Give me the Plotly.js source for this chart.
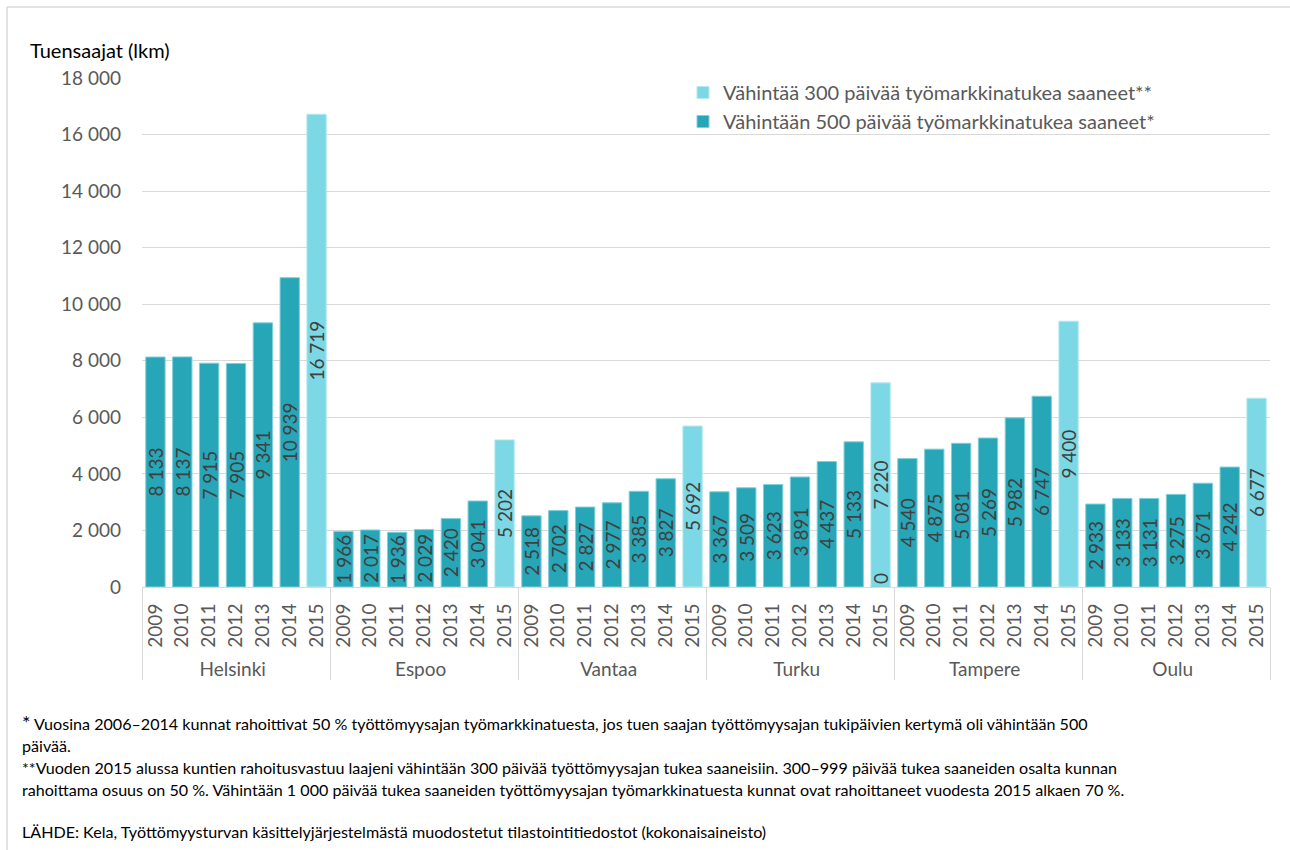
<!DOCTYPE html>
<html>
<head>
<meta charset="utf-8">
<script src="https://cdn.plot.ly/plotly-3.0.1.min.js"></script>
<style>html,body{margin:0;padding:0;background:#fff;}#chart{width:1290px;height:850px;}</style>
</head>
<body>
<div id="chart"></div>
<script>
const cities = ['Helsinki', 'Espoo', 'Vantaa', 'Turku', 'Tampere', 'Oulu'];
const years = ['2009', '2010', '2011', '2012', '2013', '2014', '2015'];
// Vähintään 500 päivää (2009–2014) per city
const helsinki500 = [8133, 8137, 7915, 7905, 9341, 10939];
const espoo500 = [1966, 2017, 1936, 2029, 2420, 3041];
const vantaa500 = [2518, 2702, 2827, 2977, 3385, 3827];
const turku500 = [3367, 3509, 3623, 3891, 4437, 5133];
const tampere500 = [4540, 4875, 5081, 5269, 5982, 6747];
const oulu500 = [2933, 3133, 3131, 3275, 3671, 4242];
// 2015 value of the 500-day series (shown only for Turku)
const year2015At500 = [null, null, null, 0, null, null];
// Vähintään 300 päivää (2015) per city
const vals300_2015 = [16719, 5202, 5692, 7220, 9400, 6677];
const seriesNames = ['Vähintää 300 päivää työmarkkinatukea saaneet**', 'Vähintään 500 päivää työmarkkinatukea saaneet*'];

const vals500ByCity = [helsinki500, espoo500, vantaa500, turku500, tampere500, oulu500];

const outer = [], inner = [], y300 = [], y500 = [], pos500 = [];
cities.forEach((c, ci) => {
  years.forEach((yr, yi) => {
    outer.push(c); inner.push(yr);
    if (yr === '2015') {
      y300.push(vals300_2015[ci]);
      y500.push(year2015At500[ci]);
      pos500.push('outside');
    } else {
      y300.push(null);
      y500.push(vals500ByCity[ci][yi]);
      pos500.push('inside');
    }
  });
});

const FONT = 'Lato, "Open Sans", sans-serif';
const grey = '#595959';

const traces = [
  {
    type: 'bar', name: seriesNames[0], x: [outer, inner], y: y300,
    marker: {color: '#7CD8E4', line: {color: '#B5E9F0', width: 1}},
    texttemplate: '%{y:,}', textposition: 'inside', insidetextanchor: 'middle', textangle: -90,
    textfont: {family: FONT, size: 19, color: '#404040'}, width: 0.72, hoverinfo: 'y'
  },
  {
    type: 'bar', name: seriesNames[1], x: [outer, inner], y: y500,
    marker: {color: '#27A6B7', line: {color: '#7FCFDA', width: 1}},
    texttemplate: '%{y:,}', textposition: pos500, insidetextanchor: 'middle', textangle: -90,
    textfont: {family: FONT, size: 19, color: '#404040'},
    outsidetextfont: {family: FONT, size: 19, color: '#404040'},
    width: 0.72, cliponaxis: false, hoverinfo: 'y'
  }
];

function px2x(px) { return (px - 142) / 1128; }
function py2y(py) { return (587 - py) / 509; }

const notes = [
  {t: '<span style="font-size:20px">*</span> Vuosina 2006–2014 kunnat rahoittivat 50 % työttömyysajan työmarkkinatuesta, jos tuen saajan työttömyysajan tukipäivien kertymä oli vähintään 500', y: 722},
  {t: 'päivää.', y: 745},
  {t: '**Vuoden 2015 alussa kuntien rahoitusvastuu laajeni vähintään 300 päivää työttömyysajan tukea saaneisiin. 300–999 päivää tukea saaneiden osalta kunnan', y: 767},
  {t: 'rahoittama osuus on 50 %. Vähintään 1 000 päivää tukea saaneiden työttömyysajan työmarkkinatuesta kunnat ovat rahoittaneet vuodesta 2015 alkaen 70 %.', y: 789},
  {t: 'LÄHDE: Kela, Työttömyysturvan käsittelyjärjestelmästä muodostetut tilastointitiedostot (kokonaisaineisto)', y: 831}
];

const annotations = notes.map(n => ({
  xref: 'paper', yref: 'paper', x: px2x(20), y: py2y(n.y), xanchor: 'left', yanchor: 'middle',
  text: n.t, showarrow: false, align: 'left', font: {family: FONT, size: 16.1, color: '#000'}
}));
annotations.push({
  xref: 'paper', yref: 'paper', x: px2x(28), y: py2y(50), xanchor: 'left', yanchor: 'middle',
  text: 'Tuensaajat (lkm)', showarrow: false, font: {family: FONT, size: 20, color: '#000'}
});

const layout = {
  width: 1290, height: 850,
  margin: {l: 142, r: 20, t: 78, b: 263},
  paper_bgcolor: '#fff', plot_bgcolor: '#fff',
  separators: ', ',
  barmode: 'overlay',
  font: {family: FONT, color: grey},
  showlegend: true,
  legend: {x: px2x(683), y: py2y(73), xanchor: 'left', yanchor: 'top', bgcolor: 'rgba(0,0,0,0)',
           font: {family: FONT, size: 20, color: grey}, traceorder: 'normal', itemwidth: 30},
  uniformtext: {mode: 'show', minsize: 19},
  xaxis: {
    type: 'multicategory', showgrid: false, tickangle: -90,
    tickfont: {family: FONT, size: 19, color: grey},
    showline: true, linecolor: '#D9D9D9', linewidth: 1,
    showdividers: true, dividercolor: '#D9D9D9', dividerwidth: 1,
    ticks: '', ticklabelstandoff: 8, zeroline: false
  },
  yaxis: {
    range: [0, 18000], dtick: 2000, tickformat: ',', showgrid: true, gridcolor: '#D9D9D9', gridwidth: 1,
    zeroline: true, zerolinecolor: '#D9D9D9', tickfont: {family: FONT, size: 19, color: grey},
    ticks: '', ticklen: 0, ticklabelstandoff: 20, automargin: false
  },
  annotations: annotations,
  shapes: [
    {type: 'line', xref: 'paper', yref: 'paper', x0: px2x(7), x1: px2x(1300), y0: py2y(7), y1: py2y(7), line: {color: '#D9D9D9', width: 1.5}},
    {type: 'line', xref: 'paper', yref: 'paper', x0: px2x(7), x1: px2x(7), y0: py2y(7), y1: py2y(860), line: {color: '#D9D9D9', width: 1.5}}
  ]
};

Plotly.newPlot('chart', traces, layout, {staticPlot: true, displayModeBar: false});
</script>
</body>
</html>
